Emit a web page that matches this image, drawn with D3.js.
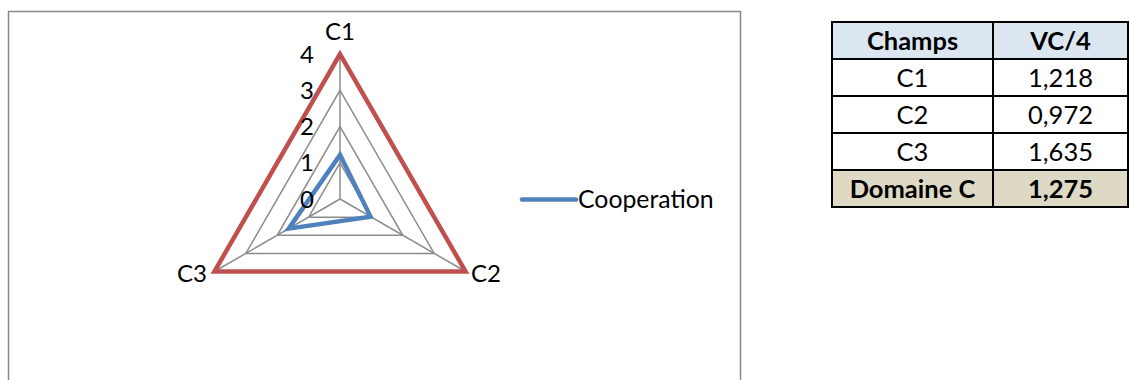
<!DOCTYPE html>
<html>
<head>
<meta charset="utf-8">
<script src="https://cdn.jsdelivr.net/npm/d3@7"></script>
<style>
  body { margin: 0; background: #fff; }
  svg text { font-family: Lato, "Liberation Sans", sans-serif; }
</style>
</head>
<body>
<div id="chart"></div>
<script>
// Radar data
var axes = ["C1", "C2", "C3"];
var cooperation = [1.218, 0.972, 1.635];
var maxSeries = [4, 4, 4];
var ticks = [0, 1, 2, 3, 4];
var seriesName = "Cooperation";

// Table data
var tableHeader = ["Champs", "VC/4"];
var tableFields = ["C1", "C2", "C3"];
var tableValues = ["1,218", "0,972", "1,635"];
var totalRow = ["Domaine C", "1,275"];

function createRadar() {
  var w = 1130;
  var h = 380;

  var svg = d3
    .select("#chart")
    .append("svg")
    .attr("width", w)
    .attr("height", h);

  // chart frame
  svg
    .append("rect")
    .attr("x", 8.5)
    .attr("y", 11.5)
    .attr("width", 732)
    .attr("height", 400)
    .attr("fill", "#fff")
    .attr("stroke", "#888")
    .attr("stroke-width", 1.5);

  var cx = 340;
  var cy = 199;
  var radius = 145;

  var rScale = d3.scaleLinear().domain([0, 4]).range([0, radius]);
  var angle = d3
    .scalePoint()
    .domain(axes)
    .range([0, (2 * Math.PI * (axes.length - 1)) / axes.length]);

  var g = svg.append("g").attr("transform", "translate(" + cx + "," + cy + ")");

  var radial = d3
    .lineRadial()
    .angle(function (d, i) {
      return angle(axes[i]);
    })
    .radius(function (d) {
      return rScale(d);
    })
    .curve(d3.curveLinearClosed);

  // grid rings
  g.selectAll(".ring")
    .data(ticks.slice(1))
    .enter()
    .append("path")
    .attr("class", "ring")
    .attr("d", function (t) {
      return radial(axes.map(function () { return t; }));
    })
    .attr("fill", "none")
    .attr("stroke", "#8c8c8c")
    .attr("stroke-width", 1.5);

  // spokes
  g.selectAll(".spoke")
    .data(axes)
    .enter()
    .append("line")
    .attr("class", "spoke")
    .attr("x1", 0)
    .attr("y1", 0)
    .attr("x2", function (d) {
      return rScale(4) * Math.sin(angle(d));
    })
    .attr("y2", function (d) {
      return -rScale(4) * Math.cos(angle(d));
    })
    .attr("stroke", "#8c8c8c")
    .attr("stroke-width", 1.5);

  // max series (red)
  g.append("path")
    .datum(maxSeries)
    .attr("d", radial)
    .attr("fill", "none")
    .attr("stroke", "#C0504D")
    .attr("stroke-width", 4.5)
    .attr("stroke-linejoin", "miter");

  // cooperation series (blue)
  g.append("path")
    .datum(cooperation)
    .attr("d", radial)
    .attr("fill", "none")
    .attr("stroke", "#4F81BD")
    .attr("stroke-width", 4.5)
    .attr("stroke-linejoin", "miter");

  // tick labels
  g.selectAll(".tick")
    .data(ticks)
    .enter()
    .append("text")
    .attr("class", "tick")
    .attr("x", -26)
    .attr("y", function (d) {
      return -rScale(d);
    })
    .attr("dy", "0.36em")
    .attr("text-anchor", "end")
    .style("font-size", "24px")
    .text(function (d) {
      return d;
    });

  // axis labels
  var labelPos = {
    C1: [0, -159, "middle"],
    C2: [131, 83, "start"],
    C3: [-133, 83, "end"],
  };
  g.selectAll(".axis-label")
    .data(axes)
    .enter()
    .append("text")
    .attr("class", "axis-label")
    .attr("x", function (d) { return labelPos[d][0]; })
    .attr("y", function (d) { return labelPos[d][1]; })
    .attr("text-anchor", function (d) { return labelPos[d][2]; })
    .style("font-size", "24px")
    .text(function (d) { return d; });

  // legend
  svg
    .append("line")
    .attr("x1", 522)
    .attr("x2", 576)
    .attr("y1", 199.5)
    .attr("y2", 199.5)
    .attr("stroke", "#4F81BD")
    .attr("stroke-width", 4.5)
    .attr("stroke-linecap", "round");
  svg
    .append("text")
    .attr("x", 578)
    .attr("y", 208)
    .style("font-size", "24.8px")
    .text(seriesName);

  // table
  var tx = [832, 993, 1128];
  var rowH = 37;
  var ty = 22;
  var rows = [tableHeader]
    .concat(tableFields.map(function (f, i) { return [f, tableValues[i]]; }))
    .concat([totalRow]);
  var fills = ["#DCE6F1", "#fff", "#fff", "#fff", "#DDD9C4"];

  var tg = svg.append("g");
  var rowG = tg
    .selectAll(".row")
    .data(rows)
    .enter()
    .append("g")
    .attr("class", "row")
    .attr("transform", function (d, i) {
      return "translate(0," + (ty + i * rowH) + ")";
    });

  rowG
    .append("rect")
    .attr("x", tx[0])
    .attr("y", 0)
    .attr("width", tx[2] - tx[0])
    .attr("height", rowH)
    .attr("fill", function (d, i) { return fills[i]; })
    .attr("stroke", "#000")
    .attr("stroke-width", 2);

  rowG
    .append("line")
    .attr("x1", tx[1])
    .attr("x2", tx[1])
    .attr("y1", 0)
    .attr("y2", rowH)
    .attr("stroke", "#000")
    .attr("stroke-width", 2);

  rowG
    .selectAll("text")
    .data(function (d, i) {
      return d.map(function (v, j) { return { v: v, j: j, bold: i === 0 || i === rows.length - 1 }; });
    })
    .enter()
    .append("text")
    .attr("x", function (d) { return (tx[d.j] + tx[d.j + 1]) / 2; })
    .attr("y", rowH / 2)
    .attr("dy", "0.36em")
    .attr("text-anchor", "middle")
    .style("font-size", "25.5px")
    .style("font-weight", function (d) { return d.bold ? "bold" : "normal"; })
    .text(function (d) { return d.v; });
}

createRadar();
</script>
</body>
</html>
